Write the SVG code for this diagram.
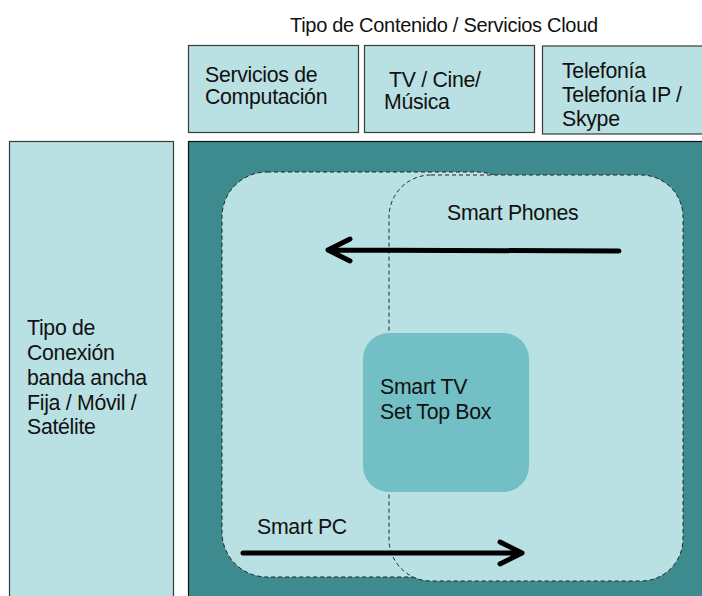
<svg xmlns="http://www.w3.org/2000/svg" width="702" height="596" viewBox="0 0 702 596">
<style>
.lbl{font-family:"Liberation Sans",Arial,sans-serif;font-size:21.3px;letter-spacing:-0.3px;fill:#111}
.box{fill:#b9e0e3;stroke:#3a3a3a;stroke-width:1.2}
.zone{fill:#b9e0e3;stroke:#222;stroke-width:1;stroke-dasharray:4 3}
.arr{fill:none;stroke:#000;stroke-width:5;stroke-linecap:round;stroke-linejoin:round}
</style>
<rect width="702" height="596" fill="#ffffff"/>
<text class="lbl" x="290" y="32" style="font-size:20px">Tipo de Contenido / Servicios Cloud</text>
<g id="servicios">
<rect class="box" x="188.5" y="45.5" width="170" height="87"/>
<text class="lbl" x="205" y="81.5">Servicios de</text>
<text class="lbl" x="205" y="104.3">Computación</text>
</g>
<g id="tv">
<rect class="box" x="364.5" y="45.5" width="170" height="87"/>
<text class="lbl" x="389" y="87">TV / Cine/</text>
<text class="lbl" x="384" y="109">Música</text>
</g>
<g id="telefonia">
<rect class="box" x="542.5" y="46" width="170" height="88"/>
<text class="lbl" x="562" y="77.5">Telefonía</text>
<text class="lbl" x="562" y="101.5">Telefonía IP /</text>
<text class="lbl" x="562" y="125.5">Skype</text>
</g>
<g id="conexion">
<rect class="box" x="9.5" y="141.5" width="164" height="470"/>
<text class="lbl" x="27" y="335">Tipo de</text>
<text class="lbl" x="27" y="360">Conexión</text>
<text class="lbl" x="27" y="384.5">banda ancha</text>
<text class="lbl" x="27" y="409.5">Fija / Móvil /</text>
<text class="lbl" x="27" y="434">Satélite</text>
</g>
<g id="area">
<rect x="188.5" y="141.5" width="530" height="470" fill="#3d8a8f" stroke="#111" stroke-width="1.2"/>
</g>
<g id="smartpc">
<rect class="zone" x="222" y="172" width="300" height="405" rx="45"/>
</g>
<g id="smartphones">
<rect class="zone" x="389" y="175" width="294" height="406" rx="42"/>
<text class="lbl" x="447" y="220">Smart Phones</text>
</g>
<g id="smarttv">
<rect x="363" y="333" width="166" height="159" rx="26" fill="#72bfc5"/>
<text class="lbl" x="380" y="393.5">Smart TV</text>
<text class="lbl" x="380" y="418.5">Set Top Box</text>
</g>
<text class="lbl" x="257" y="534">Smart PC</text>
<g id="connectors">
<path class="arr" d="M619 251 L328 250 M350 239 L328 250 L350 261"/>
<path class="arr" d="M243 553 L522 553 M500 542 L522 553 L500 564"/>
</g>
</svg>
